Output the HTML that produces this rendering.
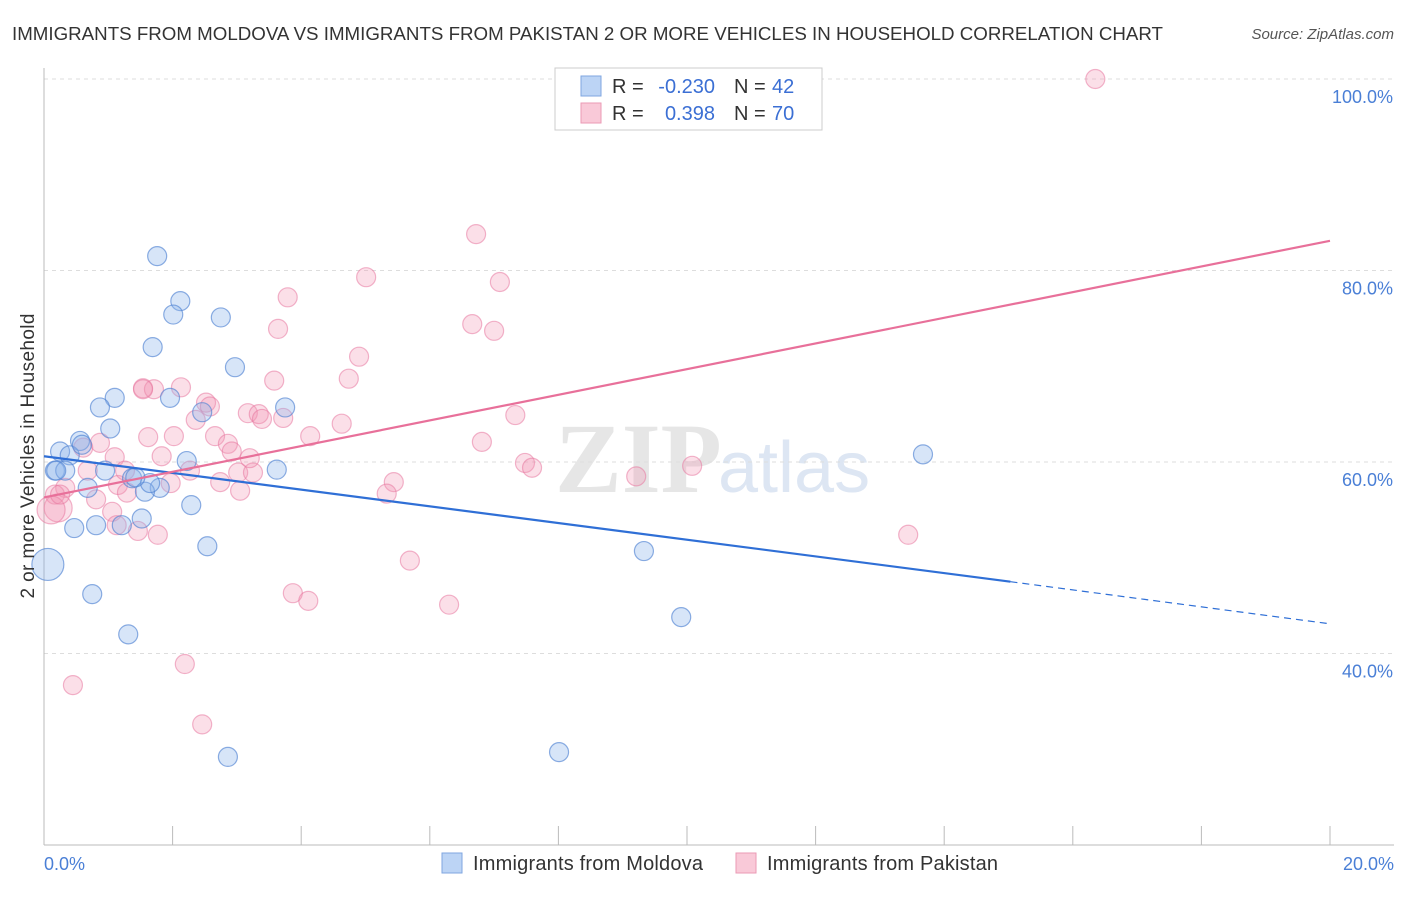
<!DOCTYPE html>
<html><head><meta charset="utf-8"><style>
body{margin:0;background:#fff;font-family:"Liberation Sans",sans-serif;}
</style></head><body>
<svg width="1406" height="892" xmlns="http://www.w3.org/2000/svg" font-family="Liberation Sans, sans-serif">
<text x="12" y="40" font-size="18.5" fill="#333" textLength="1151" lengthAdjust="spacingAndGlyphs">IMMIGRANTS FROM MOLDOVA VS IMMIGRANTS FROM PAKISTAN 2 OR MORE VEHICLES IN HOUSEHOLD CORRELATION CHART</text>
<text x="1394" y="39" font-size="15" fill="#555" font-style="italic" text-anchor="end">Source: ZipAtlas.com</text>
<text x="555" y="492" font-size="100" fill="#e6e6e6" font-family="Liberation Serif, serif" font-weight="bold">ZIP</text>
<text x="718" y="492" font-size="72" fill="#dde6f3">atlas</text>
<g id="grid"></g>
<line x1="44" y1="68" x2="44" y2="845" stroke="#bbb"/>
<line x1="44" y1="845" x2="1394" y2="845" stroke="#bbb"/>
<g id="ticks"></g>
<g id="pts"></g>
<g id="lines"></g>
<text transform="translate(34,456) rotate(-90)" font-size="19" fill="#333" text-anchor="middle" textLength="285">2 or more Vehicles in Household</text>
<text x="44" y="870" font-size="18" fill="#4a7fd6">0.0%</text>
<text x="1394" y="870" font-size="18" fill="#4a7fd6" text-anchor="end">20.0%</text>
<g>
<rect x="555" y="68" width="267" height="62" fill="#fff" stroke="#ccc"/>
<rect x="581" y="76" width="20" height="20" fill="#bcd4f5" stroke="#7fa6e0"/>
<rect x="581" y="103" width="20" height="20" fill="#f9c9d8" stroke="#eb9ab5"/>
<text x="612" y="93" font-size="20" fill="#333">R =</text>
<text x="715" y="93" font-size="20" fill="#3b6fd4" text-anchor="end">-0.230</text>
<text x="734" y="93" font-size="20" fill="#333">N =</text>
<text x="772" y="93" font-size="20" fill="#3b6fd4">42</text>
<text x="612" y="120" font-size="20" fill="#333">R =</text>
<text x="715" y="120" font-size="20" fill="#3b6fd4" text-anchor="end">0.398</text>
<text x="734" y="120" font-size="20" fill="#333">N =</text>
<text x="772" y="120" font-size="20" fill="#3b6fd4">70</text>
</g>
<g>
<rect x="442" y="853" width="20" height="20" fill="#bcd4f5" stroke="#7fa6e0"/>
<text x="473" y="870" font-size="20" fill="#333" textLength="230">Immigrants from Moldova</text>
<rect x="736" y="853" width="20" height="20" fill="#f9c9d8" stroke="#eb9ab5"/>
<text x="767" y="870" font-size="20" fill="#333" textLength="231">Immigrants from Pakistan</text>
</g>
</svg>
<script>
const yTicks=[100,80,60,40];
const yTickLabels=["100.0%","80.0%","60.0%","40.0%"];
const xTickVals=[0,2,4,6,8,10,12,14,16,18,20];
const blueX=[1.76,2.12,2.01,2.75,1.69,2.97,1.10,0.87,1.96,3.75,2.46,1.03,0.25,0.56,0.40,0.17,0.33,0.95,2.22,3.62,1.37,1.80,1.57,0.68,1.65,2.29,1.52,0.81,0.47,1.21,2.54,0.06,0.75,1.31,2.86,8.01,9.33,9.91,13.67,1.42,0.19,0.59];
const blueY=[81.5,76.8,75.4,75.1,72.0,69.9,66.7,65.7,66.7,65.7,65.2,63.5,61.1,62.2,60.7,59.1,59.1,59.1,60.1,59.2,58.3,57.3,56.9,57.3,57.8,55.5,54.1,53.4,53.1,53.4,51.2,49.3,46.2,42.0,29.2,29.7,50.7,43.8,60.8,58.4,59.1,61.8];
const pinkX=[16.35,6.72,5.01,7.09,3.79,3.64,6.66,7.00,4.90,4.74,3.58,1.54,1.71,2.13,2.52,2.58,2.36,3.17,3.34,3.39,3.72,4.63,1.62,2.02,2.66,2.86,2.92,4.14,7.33,6.81,7.48,7.59,10.08,9.21,0.87,1.10,0.68,1.15,2.27,3.02,3.25,1.83,1.97,1.26,2.74,3.05,5.44,5.33,1.29,0.81,0.33,0.17,1.06,0.22,0.11,1.13,1.46,1.77,13.44,5.69,3.87,4.11,6.30,2.19,0.45,2.46,1.54,0.61,0.25,3.20];
const pinkY=[100,83.8,79.3,78.8,77.2,73.9,74.4,73.7,71.0,68.7,68.5,67.7,67.6,67.8,66.2,65.8,64.4,65.1,65.0,64.5,64.6,64.0,62.6,62.7,62.7,61.9,61.1,62.7,64.9,62.1,59.9,59.4,59.6,58.5,62.0,60.5,59.1,57.6,59.1,58.9,58.9,60.6,57.8,59.1,57.9,57.0,57.9,56.7,56.8,56.1,57.3,56.6,54.8,55.2,55.0,53.4,52.8,52.4,52.4,49.7,46.3,45.5,45.1,38.9,36.7,32.6,67.6,61.5,56.6,60.4];
const bigBlue=[31]; const bigPink=[54,53];
const blueLine=[[0,60.6],[15.03,47.5]]; const blueDash=[[15.03,47.5],[20,43.1]];
const pinkLine=[[0,56.3],[20,83.1]];
const NS="http://www.w3.org/2000/svg";
const xs=v=>44+v*64.3, ys=v=>79+(100-v)*9.575;
function mk(t,a,p){const e=document.createElementNS(NS,t);for(const k in a)e.setAttribute(k,a[k]);document.getElementById(p).appendChild(e);return e;}
yTicks.forEach((v,i)=>{
 const l=mk('line',{x1:44,x2:1394,y1:ys(v),y2:ys(v),stroke:'#ddd','stroke-dasharray':'4,4'},'grid');
 
 
 const t=mk('text',{x:1393,y:ys(v)+24,'font-size':18,fill:'#4a7fd6','text-anchor':'end'},'ticks');
 t.textContent=yTickLabels[i];
 
 
});
xTickVals.forEach(v=>{
 const l=mk('line',{x1:xs(v),x2:xs(v),y1:826,y2:845,stroke:'#bbb'},'ticks');
 
 
});
pinkX.forEach((x,i)=>{
 const c=mk('circle',{cx:xs(x),cy:ys(pinkY[i]),r:bigPink.includes(i)?14:9.5,fill:'rgba(242,150,180,0.3)',stroke:'rgba(232,120,160,0.55)','stroke-width':1.2},'pts');
 
 
});
blueX.forEach((x,i)=>{
 const c=mk('circle',{cx:xs(x),cy:ys(blueY[i]),r:bigBlue.includes(i)?16:9.5,fill:'rgba(140,180,235,0.35)',stroke:'rgba(80,130,210,0.65)','stroke-width':1.2},'pts');
 
 
});
function ln(p,col,dash,name,w){const l=mk('line',{x1:xs(p[0][0]),y1:ys(p[0][1]),x2:xs(p[1][0]),y2:ys(p[1][1]),stroke:col,'stroke-width':w},'lines');if(dash)l.setAttribute('stroke-dasharray',dash);
 
 }
ln(blueLine,'#2f6fd6',null,'moldova-trend-line',2.2);
ln(blueDash,'#2f6fd6','7,5','moldova-trend-extension',1.2);
ln(pinkLine,'#e8709a',null,'pakistan-trend-line',2.2);
</script>
</body></html>
